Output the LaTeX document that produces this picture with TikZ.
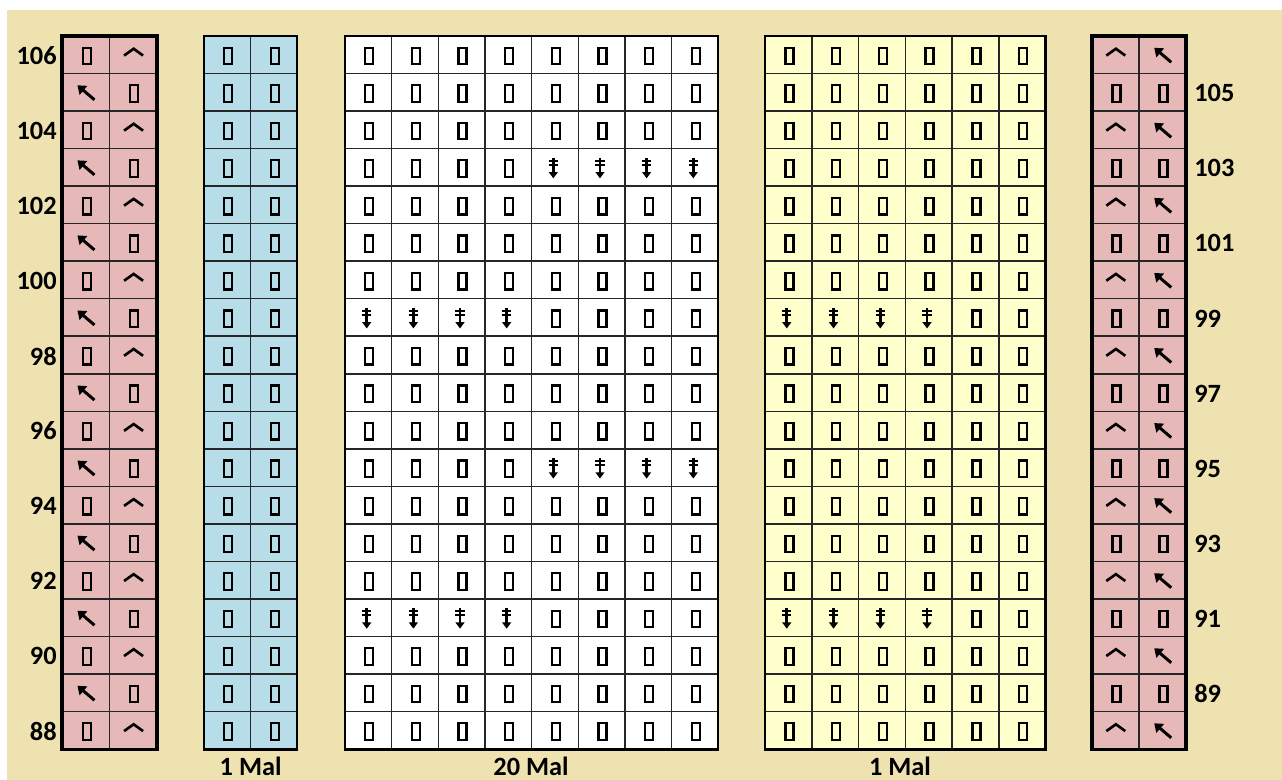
\documentclass[tikz,border=0pt]{standalone}
\usepackage{fontspec}
\setmainfont{Carlito}
\usetikzlibrary{arrows.meta}
\definecolor{chartbg}{RGB}{238, 226, 177}
\definecolor{chartpink}{RGB}{230, 185, 184}
\definecolor{chartblue}{RGB}{183, 221, 232}
\definecolor{chartyellow}{RGB}{255, 255, 204}

% one chart panel: #1 left x, #2 columns, #3 column width, #4 fill, #5 frame width
\newcommand{\chartpanel}[5]{%
  \fill[#4] (#1,36) rectangle ({#1+#2*#3},749.5);
  \foreach \r in {1,...,18}
    \draw[gridline] (#1,{36+\r*37.53}) -- ({#1+#2*#3},{36+\r*37.53});
  \pgfmathtruncatemacro\lastcol{#2-1}
  \foreach \c in {1,...,\lastcol}
    \draw[gridline] ({#1+\c*#3},36) -- ({#1+\c*#3},749.5);
  \draw[draw=black, line width=#5] (#1,36) rectangle ({#1+#2*#3},749.5);
}

\begin{document}
\begin{tikzpicture}[
  x=0.02cm, y=-0.02cm,
  gridline/.style={draw=black!85, line width=0.85pt},
  rowlabel/.style={
    inner sep=0pt,
    font=\fontsize{15}{17}\selectfont\bfseries, text=black
  },
  countlabel/.style={
    inner sep=0pt,
    font=\fontsize{15}{17}\selectfont\bfseries, text=black
  },
  knitbox/.pic={
    \draw[black, line width=1.3pt] (-3,-7) rectangle (5,9.5);
  },
  knitcaret/.pic={
    \draw[black, line width=1.5pt, line join=miter]
      (-9.2,0.8) -- (0.4,-6) -- (9.8,0.8);
  },
  knitslant/.pic={
    \draw[black, line width=1.7pt, -{Triangle[length=4.5pt, width=6.5pt]}]
      (8.7,7.5) -- (-8.3,-7);
  },
  knitdrop/.pic={
    \draw[black, line width=1.5pt, -{Triangle[length=3.6pt, width=5pt]}]
      (-1.6,-9.8) -- (-1.6,11);
    \draw[black, line width=1.2pt] (-6.3,-6.3) -- (3.1,-6.3);
    \draw[black, line width=1.2pt] (-6.3,-2.4) -- (3.1,-2.4);
  },
]
\useasboundingbox (0,0) rectangle (1282,780);

%% ================================================================
%% BACKGROUND
%% ================================================================
\fill[white]   (0,0)  rectangle (1282,780);
\fill[chartbg] (7,10) rectangle (1282,780);

%% ================================================================
%% PANELS
%% ================================================================
\chartpanel{62}{2}{47.5}{chartpink}{1.8pt}
\chartpanel{204}{2}{46.6}{chartblue}{1.2pt}
\chartpanel{345}{8}{46.65}{white}{1.2pt}
\chartpanel{765}{6}{46.75}{chartyellow}{1.2pt}
\chartpanel{1092}{2}{47}{chartpink}{1.8pt}

%% ================================================================
%% LEFT PINK EDGE
%% ================================================================
\foreach \r in {1,3,...,19} {
  \pic at (85.75,{36+(\r-0.5)*37.53}) {knitbox};
  \pic at (133.25,{36+(\r-0.5)*37.53}) {knitcaret};
}
\foreach \r in {2,4,...,18} {
  \pic at (85.75,{36+(\r-0.5)*37.53}) {knitslant};
  \pic at (133.25,{36+(\r-0.5)*37.53}) {knitbox};
}

% row numbers (left side)
\foreach \n [count=\r from 1] in {106,104,...,88}
  \node[rowlabel, anchor=east] (row\n) at (57,{36+(2*\r-1.5)*37.53+1}) {\n};

%% ================================================================
%% BLUE PANEL (1 Mal)
%% ================================================================
\foreach \r in {1,...,19}
  \foreach \c in {1,2}
    \pic at ({204+(\c-0.5)*46.6},{36+(\r-0.5)*37.53}) {knitbox};

\node[countlabel] (malblue) at (250.6,766.5) {1 Mal};

%% ================================================================
%% WHITE PANEL (20 Mal)
%% ================================================================
\foreach \r in {1,...,19}
  \foreach \c in {1,...,8} {
    \pgfmathtruncatemacro\isdrop{(\r==4 && \c>4) || (\r==8 && \c<5)
      || (\r==12 && \c>4) || (\r==16 && \c<5)}
    \ifnum\isdrop=1
      \pic at ({345+(\c-0.5)*46.65},{36+(\r-0.5)*37.53}) {knitdrop};
    \else
      \pic at ({345+(\c-0.5)*46.65},{36+(\r-0.5)*37.53}) {knitbox};
    \fi
  }

\node[countlabel] (malwhite) at (531,766.5) {20 Mal};

%% ================================================================
%% YELLOW PANEL (1 Mal)
%% ================================================================
\foreach \r in {1,...,19}
  \foreach \c in {1,...,6} {
    \pgfmathtruncatemacro\isdrop{(\r==8 || \r==16) && \c<5}
    \ifnum\isdrop=1
      \pic at ({765+(\c-0.5)*46.75},{36+(\r-0.5)*37.53}) {knitdrop};
    \else
      \pic at ({765+(\c-0.5)*46.75},{36+(\r-0.5)*37.53}) {knitbox};
    \fi
  }

\node[countlabel] (malyellow) at (900,766.5) {1 Mal};

%% ================================================================
%% RIGHT PINK EDGE
%% ================================================================
\foreach \r in {1,3,...,19} {
  \pic at (1115.5,{36+(\r-0.5)*37.53}) {knitcaret};
  \pic at (1162.5,{36+(\r-0.5)*37.53}) {knitslant};
}
\foreach \r in {2,4,...,18} {
  \pic at (1115.5,{36+(\r-0.5)*37.53}) {knitbox};
  \pic at (1162.5,{36+(\r-0.5)*37.53}) {knitbox};
}

% row numbers (right side)
\foreach \n [count=\r from 1] in {105,103,...,89}
  \node[rowlabel, anchor=west] (row\n) at (1194,{36+(2*\r-0.5)*37.53+1}) {\n};

\end{tikzpicture}
\end{document}
